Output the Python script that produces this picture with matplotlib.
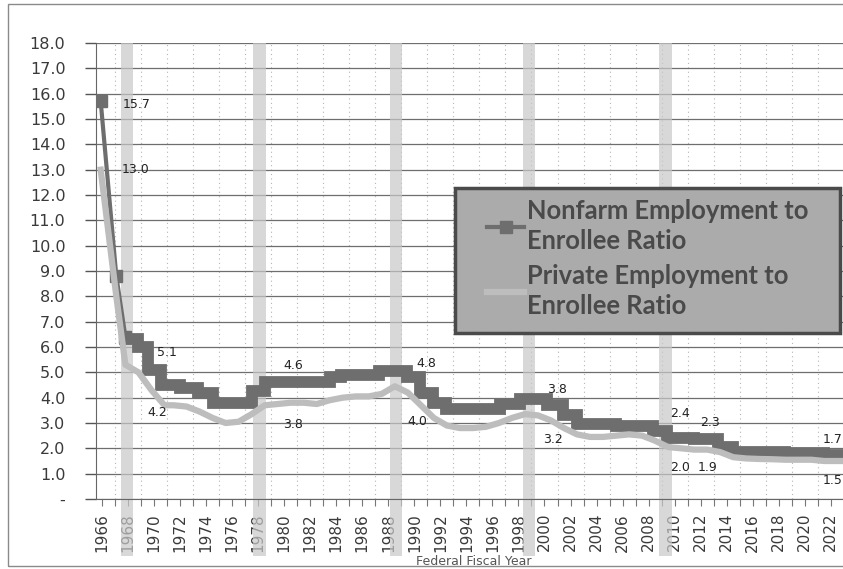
import matplotlib
matplotlib.use("Agg")
import matplotlib.pyplot as plt
from matplotlib.ticker import MultipleLocator, FuncFormatter
from matplotlib.patches import Rectangle

# Nonfarm employment / enrollee ratio: steep start, then fiscal-year steps
nonfarm_early_years = [1965.9, 1967.1, 1967.8]
nonfarm_early_vals = [15.7, 8.8, 6.4]
nonfarm_step_years = [1967.8, 1968.8, 1969.5, 1970.5, 1972.0, 1973.4, 1974.5, 1977.5,
                      1978.5, 1983.5, 1984.4, 1987.3, 1989.4, 1990.4, 1991.4, 1992.4,
                      1996.6, 1998.1, 2000.2, 2001.4, 2002.5, 2005.5, 2008.3, 2009.4,
                      2011.5, 2013.3, 2014.5, 2018.5, 2021.5]
nonfarm_step_vals = [6.3, 6.0, 5.1, 4.5, 4.4, 4.2, 3.8, 4.25,
                     4.6, 4.8, 4.9, 5.05, 4.8, 4.2, 3.8, 3.55,
                     3.75, 3.95, 3.7, 3.3, 2.95, 2.9, 2.7, 2.4,
                     2.35, 2.05, 1.85, 1.8, 1.75]
nonfarm_end = 2023.6

# Private employment / enrollee ratio
private_years = [1965.9, 1967.1, 1967.8, 1968.8, 1969.8, 1970.8, 1971.5, 1972.5, 1973.5,
                 1974.5, 1975.5, 1976.5, 1977.5, 1978.5, 1979.5, 1980.5, 1981.5, 1982.5,
                 1983.5, 1984.5, 1985.5, 1986.5, 1987.5, 1988.5, 1989.5, 1990.5, 1991.5,
                 1992.5, 1993.5, 1994.5, 1995.5, 1996.5, 1997.5, 1998.5, 1999.5, 2000.5,
                 2001.5, 2002.5, 2003.5, 2004.5, 2005.5, 2006.5, 2007.5, 2008.5, 2009.5,
                 2010.5, 2011.5, 2012.5, 2013.5, 2014.5, 2015.5, 2016.5, 2017.5, 2018.5,
                 2019.5, 2020.5, 2021.5, 2022.5, 2023.6]
private_vals = [13.0, 8.0, 5.3, 5.0, 4.3, 3.7, 3.7, 3.65, 3.45,
                3.2, 3.0, 3.05, 3.35, 3.7, 3.75, 3.8, 3.8, 3.75,
                3.9, 4.0, 4.05, 4.05, 4.15, 4.45, 4.2, 3.7, 3.2,
                2.9, 2.8, 2.8, 2.85, 3.0, 3.2, 3.35, 3.3, 3.1,
                2.8, 2.55, 2.45, 2.45, 2.5, 2.55, 2.5, 2.3, 2.05,
                2.0, 1.95, 1.95, 1.85, 1.65, 1.6, 1.58, 1.57, 1.55,
                1.55, 1.55, 1.5, 1.5, 1.5]

# data labels shown on the chart
nonfarm_label_years = [1965.9, 1970, 1980, 1990, 2000, 2010, 2012, 2023]
nonfarm_label_vals = [15.7, 5.1, 4.6, 4.8, 3.8, 2.4, 2.3, 1.7]
private_label_years = [1965.9, 1970, 1980, 1990, 2000, 2010, 2012, 2023]
private_label_vals = [13.0, 4.2, 3.8, 4.0, 3.2, 2.0, 1.9, 1.5]

# shaded columns
band_years = [1967.9, 1978.1, 1988.6, 1998.8, 2009.3]

NONFARM_COLOR = "#6e6e6e"
PRIVATE_COLOR = "#bdbdbd"
TEXT_COLOR = "#3a3a3a"

fig = plt.figure(figsize=(8.43, 5.69), dpi=100)
ax = fig.add_axes([96 / 843, 70 / 569, 755 / 843, 456 / 569])

# outer chart border
fig.patches.append(Rectangle((8 / 843, 3 / 569), 1.0, 562 / 569, transform=fig.transFigure,
                             fill=False, edgecolor="#8a8a8a", linewidth=1.0))

for yr in band_years:
    ax.axvspan(yr - 0.47, yr + 0.47, ymin=-0.125, ymax=1.0, color="#c8c8c8",
               alpha=0.7, lw=0, zorder=1, clip_on=False)

# nonfarm series
ax.plot(nonfarm_early_years, nonfarm_early_vals, color=NONFARM_COLOR, lw=3,
        marker="s", ms=9, zorder=3, solid_capstyle="butt")
ax.step(nonfarm_step_years + [nonfarm_end], nonfarm_step_vals + [nonfarm_step_vals[-1]],
        where="post", color=NONFARM_COLOR, lw=8.5, zorder=3, solid_joinstyle="miter")
ax.plot([], [], color=NONFARM_COLOR, lw=3, marker="s", ms=9,
        label="Nonfarm Employment to\nEnrollee Ratio")

# private series
ax.plot(private_years, private_vals, color=PRIVATE_COLOR, lw=4.5, zorder=4,
        solid_joinstyle="round", label="Private Employment to\nEnrollee Ratio")

for yr, v, (dx, dy) in zip(nonfarm_label_years, nonfarm_label_vals,
                           [(36, -3), (13, 17), (9, 17), (12, 14), (13, 13), (5, 25), (9, 18), (-11, 16)]):
    ax.annotate(f"{v:.1f}", (yr, v), xytext=(dx, dy), textcoords="offset pixels",
                ha="center", va="center", fontsize=9, color="#222222", zorder=6,
                annotation_clip=False)
for yr, v, (dx, dy) in zip(private_label_years, private_label_vals,
                           [(35, 0), (3, -20), (9, -22), (3, -24), (8, -22), (5, -19), (7, -17), (-11, -19)]):
    ax.annotate(f"{v:.1f}", (yr, v), xytext=(dx, dy), textcoords="offset pixels",
                ha="center", va="center", fontsize=9, color="#222222", zorder=6,
                annotation_clip=False)

ax.set_xlim(1965.54, 2023.55)
ax.set_ylim(0, 18)

ax.xaxis.set_minor_locator(MultipleLocator(1))
ax.set_xticks(range(1966, 2023, 2))
ax.yaxis.set_major_locator(MultipleLocator(1))
ax.yaxis.set_major_formatter(FuncFormatter(lambda v, p: "-" if v == 0 else f"{v:.1f}"))

ax.tick_params(axis="y", which="major", length=8, width=1, color="#555555",
               labelsize=11.5, labelcolor=TEXT_COLOR, pad=14)
ax.tick_params(axis="x", which="major", length=5, width=0.8, color="#777777",
               labelsize=11, labelcolor=TEXT_COLOR, labelrotation=90, pad=5)
ax.tick_params(axis="x", which="minor", length=5, width=0.8, color="#777777")

ax.grid(axis="y", which="major", color="#6e6e6e", lw=0.9, zorder=0)
ax.grid(axis="x", which="minor", color="#b5b5b5", lw=0.8, ls=(0, (1, 3)), zorder=0)
ax.set_axisbelow(True)

for side in ["top", "right"]:
    ax.spines[side].set_visible(False)
ax.spines["left"].set_color("#666666")
ax.spines["bottom"].set_color("#666666")

ax.set_xlabel("Federal Fiscal Year", fontsize=9, color="#555555", labelpad=2)

# legend: grey box drawn as a patch, entries placed inside it
ax.add_patch(Rectangle((0.4755, 0.364), 0.51, 0.318, transform=ax.transAxes,
                       facecolor="#ababab", edgecolor="#4a4a4a", lw=2.5, zorder=6.5,
                       clip_on=False))
leg = ax.legend(loc="upper left", bbox_to_anchor=(0.518, 0.658), frameon=False,
                handlelength=1.45, handletextpad=0.1, borderpad=0,
                labelspacing=0.42, borderaxespad=0,
                prop={"family": "Lato", "weight": "bold", "size": 18.4})
for t in leg.get_texts():
    t.set_color("#4a4a4a")
    t.set_linespacing(1.3)
leg.set_zorder(7)

fig.savefig("out.png", dpi=100)
